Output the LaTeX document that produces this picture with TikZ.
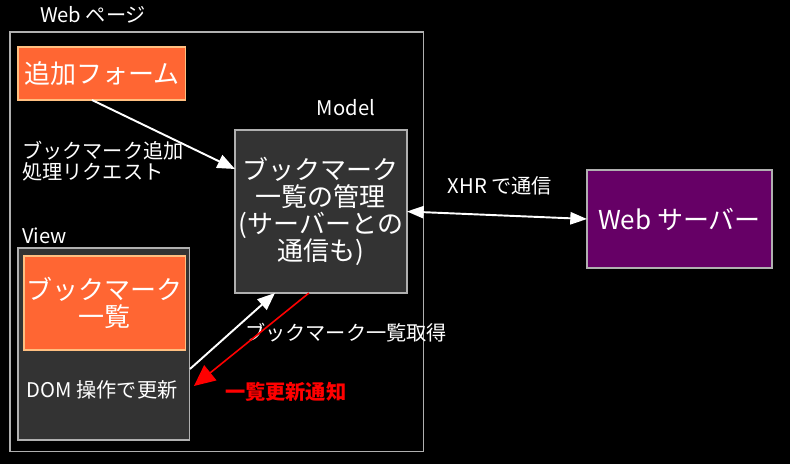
\documentclass[tikz,border=0pt]{standalone}
\usepackage{fontspec}
\setmainfont{Noto Sans CJK JP}
\usetikzlibrary{positioning, arrows.meta}

\definecolor{formorange}{HTML}{FF6633}
\definecolor{boxgray}{HTML}{333333}
\definecolor{linegray}{HTML}{B0B0B0}
\definecolor{serverpurple}{HTML}{660066}

\begin{document}
\begin{tikzpicture}[x=0.02cm, y=-0.02cm, text=white,
    every node/.style={inner sep=0pt, outer sep=0pt},
    bigtext/.style={font=\fontsize{14.8}{15.5}\selectfont, align=center},
    smalltext/.style={font=\fontsize{11.5}{12.2}\selectfont},
    whitearrow/.style={draw=white, line width=1.1pt, -{Triangle[length=10pt, width=8pt]}},
    redarrow/.style={draw=red, line width=0.9pt, -{Triangle[length=12pt, width=11pt]}},
    xhrarrow/.style={draw=white, line width=1.1pt, {Triangle[length=9.5pt, width=7pt]}-{Triangle[length=9.5pt, width=7pt]}}]
    % Background
    \fill[black] (0,0) rectangle (790,464);
    \useasboundingbox (0,0) rectangle (790,464);

    % Web page
    \node[draw=linegray, line width=0.6pt, anchor=north west, minimum width=8.28cm, minimum height=8.4cm] (page) at (10,32) {};
    \node[smalltext, anchor=west] (pagelabel) at (40,15) {Web ページ};
    \node[draw=orange!50!white, fill=formorange, line width=0.6pt, anchor=north west, minimum width=3.36cm, minimum height=1.06cm, bigtext] (form) at (18,47) {追加フォーム};
    \node[smalltext, anchor=west, align=left] (reqlabel) at (22,161) {ブックマーク追加\\処理リクエスト};

    % Model
    \node[draw=linegray, fill=boxgray, line width=0.6pt, anchor=north west, minimum width=3.44cm, minimum height=3.26cm, bigtext] (model) at (235,130) {ブックマーク\\一覧の管理\\(サーバーとの\\通信も)};
    \node[smalltext, above=0.28cm of model.north, xshift=0.5cm] (modellabel) {Model};

    % View
    \node[draw=linegray, fill=boxgray, line width=0.6pt, anchor=north west, minimum width=3.44cm, minimum height=3.84cm] (view) at (18,248) {};
    \node[smalltext, anchor=west] (viewlabel) at (22,236) {View};
    \node[draw=orange!50!white, fill=formorange, line width=0.6pt, anchor=north west, minimum width=3.24cm, minimum height=1.88cm, bigtext] (list) at (24,256) {ブックマーク\\一覧};
    \node[smalltext] (domlabel) at (102,390) {DOM 操作で更新};

    % Web server
    \node[draw=linegray, fill=serverpurple, line width=0.6pt, anchor=north west, minimum width=3.7cm, minimum height=1.96cm, bigtext] (server) at (587,170) {Web サーバー};

    % Labels on arrows
    \node[smalltext, anchor=west] (fetchlabel) at (245,333) {ブックマーク一覧取得};
    \node[smalltext, anchor=west, text=red, font=\fontsize{11.5}{12.2}\selectfont\bfseries] (notifylabel) at (225,392) {一覧更新通知};
    \node[smalltext] (xhrlabel) at (500,186) {XHR で通信};

    % Arrows
    \draw[whitearrow] ([xshift=-0.2cm]form.south) -- ([yshift=0.85cm]model.west);
    \draw[whitearrow] ([yshift=-0.5cm]view.east) -- ([xshift=-0.92cm]model.south);
    \draw[redarrow] ([xshift=-0.24cm]model.south) -- ([xshift=0.08cm, yshift=-0.84cm]view.east);
    \draw[xhrarrow] (model.east) -- (server.west);
\end{tikzpicture}
\end{document}
